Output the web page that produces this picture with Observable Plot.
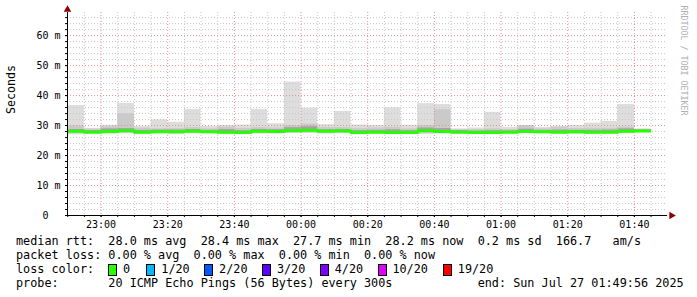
<!DOCTYPE html>
<html><head><meta charset="utf-8">
<script src="https://cdn.jsdelivr.net/npm/d3@7"></script>
<script src="https://cdn.jsdelivr.net/npm/@observablehq/plot@0.6"></script>
<style>
body{margin:0;background:#fff;}
#wrap{position:relative;width:697px;height:297px;overflow:hidden;background:#fff;}
#chart svg{display:block;}
.lg{position:absolute;font-family:"DejaVu Sans Mono",monospace;font-size:11.8px;line-height:14px;white-space:pre;color:#000;}
.sq{position:absolute;width:7px;height:10px;border:1px solid #000;}
</style></head><body><div id="wrap"><div id="chart"></div></div>
<script>
// 5-minute slots (start of each step)
const slots = ["22:50","22:55","23:00","23:05","23:10","23:15","23:20","23:25","23:30","23:35","23:40","23:45",
  "23:50","23:55","00:00","00:05","00:10","00:15","00:20","00:25","00:30","00:35","00:40","00:45",
  "00:50","00:55","01:00","01:05","01:10","01:15","01:20","01:25","01:30","01:35","01:40"];
// values in ms
const medianRtt = [28.1,27.8,28.0,28.3,27.8,27.9,27.9,28.1,27.9,27.8,27.7,28.1,28.0,28.3,28.4,28.1,28.2,27.7,27.8,27.7,27.7,28.3,28.0,27.8,27.7,27.7,27.8,28.0,27.9,27.8,27.9,27.8,27.8,28.1,28.2];
const minRtt    = [26.9,27.2,27.1,27.2,26.9,27.3,27.0,27.3,27.3,27.0,27.1,27.2,27.2,27.4,27.3,27.2,27.3,26.9,27.1,27.0,27.2,27.0,27.2,27.3,27.2,27.0,27.2,27.3,27.3,27.2,27.1,27.1,27.2,27.3,27.6];
const low2Rtt   = [27.3,27.4,27.4,27.5,27.2,27.5,27.3,27.5,27.5,27.2,27.3,27.5,27.4,27.6,27.6,27.5,27.5,27.2,27.3,27.2,27.4,27.4,27.4,27.4,27.3,27.3,27.4,27.5,27.5,27.4,27.3,27.3,27.4,27.5,27.7];
const low3Rtt   = [27.6,27.5,27.6,27.8,27.4,27.6,27.5,27.7,27.6,27.4,27.4,27.7,27.6,27.9,27.9,27.7,27.7,27.4,27.5,27.4,27.5,27.7,27.7,27.5,27.4,27.4,27.5,27.7,27.6,27.5,27.5,27.5,27.5,27.7,27.8];
const high3Rtt  = [28.7,28.3,28.9,29.0,28.4,28.5,28.5,28.7,28.4,28.7,28.3,28.7,28.6,29.3,29.6,28.6,28.7,28.3,28.4,28.6,28.3,29.2,29.0,28.3,28.2,28.3,28.2,28.8,28.4,28.5,28.4,28.4,28.5,28.9,28.5];
const high2Rtt  = [29.9,28.8,29.6,33.9,29.1,28.9,29.0,29.3,28.9,29.5,29.0,29.3,29.2,30.0,30.5,29.3,29.3,29.0,29.2,29.4,28.9,30.0,35.3,28.6,28.6,28.9,28.7,29.9,28.9,29.4,29.0,29.1,29.1,29.5,28.7];
const maxRtt    = [36.7,29.1,30.1,37.4,29.7,31.9,31.1,35.4,29.7,30.0,30.2,35.4,30.6,44.5,35.8,30.3,34.7,30.2,30.0,35.9,30.1,37.3,37.0,28.9,29.2,34.4,29.4,30.0,29.4,29.7,30.0,30.8,31.4,37.0,28.9];

const yTicks = [0,10,20,30,40,50,60];
const xTickLabels = ["23:00","23:20","23:40","00:00","00:20","00:40","01:00","01:20","01:40"];
const startTime = "2025-07-26T22:49:56Z", endTime = "2025-07-27T01:49:56Z";

const legendText = [
  "median rtt:  28.0 ms avg  28.4 ms max  27.7 ms min  28.2 ms now  0.2 ms sd  166.7   am/s",
  "packet loss: 0.00 % avg  0.00 % max  0.00 % min  0.00 % now",
  "loss color:",
  "probe:       20 ICMP Echo Pings (56 Bytes) every 300s            end: Sun Jul 27 01:49:56 2025"
];
const lossLabels = ["0","1/20","2/20","3/20","4/20","10/20","19/20"];
const lossColors = ["#26ff00","#00b8ff","#0059ff","#5e00ff","#7e00ff","#dd00ff","#ff0000"];
const lossSquareX = [107.6,145.8,204.4,262.2,320,377.8,443.1];
const lossLabelX  = [123.1,161.3,219.1,276.9,334.7,392.4,457.8];

function parseSlot(s){
  const h = +s.slice(0,2);
  const day = h >= 12 ? "2025-07-26" : "2025-07-27";
  return new Date(day + "T" + s + ":00Z");
}
const rows = slots.map((s,i)=>{
  const t0 = parseSlot(s);
  return {t0, t1:new Date(+t0 + 300000), med:medianRtt[i], lo:minRtt[i], hi:maxRtt[i],
          lo2:low2Rtt[i], hi2:high2Rtt[i], lo3:low3Rtt[i], hi3:high3Rtt[i]};
});
const medLine = rows.map(r=>({t:r.t0,v:r.med})).concat([{t:rows[rows.length-1].t1, v:rows[rows.length-1].med}]);
const x0 = new Date(startTime), x1 = new Date(endTime);
const minorT = d3.utcMinute.every(5).range(x0, x1);
const majorT = xTickLabels.map(parseSlot);
const minorY = d3.range(2, 68, 2).filter(v=>v%10!==0);
const majorY = yTicks.filter(v=>v>0);
const mono = "DejaVu Sans Mono";

const chart = Plot.plot({
  width:697, height:232, marginLeft:67, marginRight:30, marginTop:12, marginBottom:17,
  style:{background:"#fff", fontFamily:mono},
  x:{type:"utc", domain:[x0,x1], axis:null},
  y:{domain:[0,67.7], axis:null},
  marks:[
    Plot.rectY(rows,{x1:"t0",x2:"t1",y1:"lo",y2:"hi",fill:"#dddddd",inset:0}),
    Plot.rectY(rows,{x1:"t0",x2:"t1",y1:"lo2",y2:"hi2",fill:"#cacaca",inset:0}),
    Plot.rectY(rows,{x1:"t0",x2:"t1",y1:"lo3",y2:"hi3",fill:"#a4a4a4",inset:0}),
    Plot.ruleX(minorT.filter(t=>t.getUTCMinutes()%20!==0),{stroke:"#c8c8c8",strokeDasharray:"1,2",strokeWidth:1}),
    Plot.ruleY(minorY,{stroke:"#c8c8c8",strokeDasharray:"1,2",strokeWidth:1}),
    Plot.ruleX(majorT,{stroke:"#e89090",strokeDasharray:"1,2",strokeWidth:1}),
    Plot.ruleY(majorY,{stroke:"#e89090",strokeDasharray:"1,2",strokeWidth:1}),
    Plot.line(medLine,{x:"t",y:"v",curve:"step-after",stroke:"#26ff00",strokeWidth:3,strokeLinecap:"butt"}),
    Plot.axisX({ticks:minorT, tickSize:2, tickFormat:()=>"", stroke:"#000"}),
    Plot.axisX({ticks:majorT, tickSize:2, tickPadding:3, tickFormat:d=>xTickLabels[majorT.findIndex(m=>+m===+d)], fontSize:10, fontFamily:mono, fill:"#000"}),
    Plot.axisY({ticks:d3.range(0,68,2), tickSize:2, tickFormat:()=>""}),
    Plot.axisY({ticks:yTicks, tickSize:2, tickPadding:5, tickFormat:d=>d===0?"0\u00a0\u00a0":d+" m", fontSize:10, fontFamily:mono, fill:"#000"}),
    Plot.ruleY([0],{stroke:"#000",strokeWidth:1,dx:0}),
    Plot.ruleX([x0],{stroke:"#000",strokeWidth:1}),
    Plot.dot([0],{frameAnchor:"top-left",symbol:"triangle",r:2.8,fill:"#900000",stroke:null,dy:-3}),
    Plot.dot([0],{frameAnchor:"bottom-right",symbol:"triangle",r:2.8,fill:"#900000",stroke:null,rotate:90,dx:4}),
    Plot.text(["Seconds"],{frameAnchor:"left",dx:-56,rotate:-90,fontSize:11.6,fontFamily:mono,fill:"#000"}),
    Plot.text(["RRDTOOL / TOBI OETIKER"],{frameAnchor:"top-right",dx:19,dy:-7,rotate:90,textAnchor:"start",fontSize:8.3,fontFamily:mono,fill:"#b0b0b0"})
  ]
});
document.getElementById("chart").appendChild(chart);

const wrap = document.getElementById("wrap");
const centers = [241,255,269,283];
legendText.forEach((txt,li)=>{
  const d = document.createElement("div");
  d.className = "lg"; d.textContent = txt;
  d.style.left = "16px"; d.style.top = (centers[li]-7)+"px";
  wrap.appendChild(d);
});
lossLabels.forEach((lab,i)=>{
  const s = document.createElement("div");
  s.className="sq"; s.style.background=lossColors[i];
  s.style.left = lossSquareX[i]+"px"; s.style.top=(269-5)+"px";
  wrap.appendChild(s);
  const d = document.createElement("div");
  d.className="lg"; d.textContent=lab;
  d.style.left = lossLabelX[i]+"px"; d.style.top=(269-7)+"px";
  wrap.appendChild(d);
});
</script></body></html>
